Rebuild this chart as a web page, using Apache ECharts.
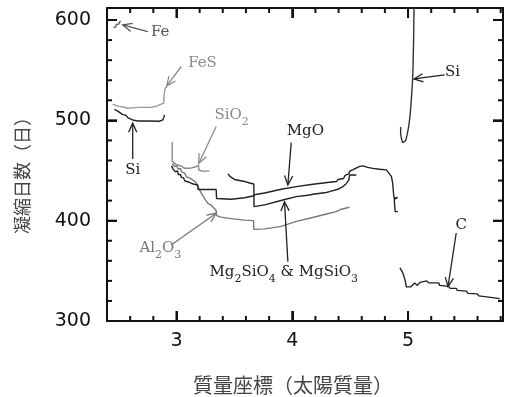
<!DOCTYPE html>
<html><head><meta charset="utf-8">
<script src="https://cdn.jsdelivr.net/npm/echarts@6/dist/echarts.min.js"></script>
<style>html,body{margin:0;padding:0;background:#fff}#c{width:513px;height:397px}</style>
</head><body><div id="c"></div>
<script>
// ---- axes ----
const xMin = 2.4, xMax = 5.82, yMin = 300, yMax = 612;
const xMajorStep = 1, yMajorStep = 100;
const xMajorTicks = [3, 4, 5];
const xMinorTicks = [2.6, 2.8, 3.2, 3.4, 3.6, 3.8, 4.2, 4.4, 4.6, 4.8, 5.2, 5.4, 5.6, 5.8];
const yMajorTicks = [300, 400, 500, 600];
const yMinorTicks = [320, 340, 360, 380, 420, 440, 460, 480, 520, 540, 560, 580];
const xTitle = '質量座標（太陽質量）';
const yTitle = '凝縮日数（日）';

// ---- series values [mass coordinate, days] ----
const fe = [[2.456,592.6],[2.477,593.0],[2.479,595.6],[2.503,596.1],[2.51,598.4],[2.52,598.8]];
const feS = [[2.449,516.1],[2.479,514.7],[2.507,513.9],[2.551,513.1],[2.577,512.1],[2.611,512.4],[2.68,512.9],
  [2.784,513.1],[2.836,514.4],[2.862,515.9],[2.89,517.1],[2.892,524.3],[2.899,530.3],[2.905,532.3],[2.92,533.3]];
const siInner = [[2.464,510.9],[2.49,509.4],[2.507,507.9],[2.533,505.9],[2.565,504.9],[2.579,502.7],[2.602,501.4],
  [2.622,500.4],[2.666,499.4],[2.752,499.4],[2.853,499.1],[2.882,500.4],[2.892,503.4],[2.896,505.4]];
const siO2 = [[2.963,478.5],[2.963,468.5],[2.963,459.5],[2.983,457],[3.009,455.5],[3.041,454.5],[3.069,452.2],
  [3.112,452.2],[3.17,453.8],[3.19,455.5],[3.193,450.5],[3.233,449.1],[3.285,449.6]];
const mgO = [[2.957,454.6],[2.97,451.6],[2.983,452.6],[2.991,448.6],[3.009,449.6],[3.017,445.6],[3.035,446.1],
  [3.043,443.1],[3.061,442.6],[3.073,439.6],[3.104,438.6],[3.13,437.1],[3.164,436.1],[3.184,435.6],[3.186,431.1],
  [3.343,431.1],[3.346,422.1],[3.473,421.3],[3.588,422.9],[3.659,424.6],[3.683,426.1],[3.761,427.6],[3.905,431.3],
  [4.035,433.9],[4.178,436.3],[4.322,438.3],[4.383,439.1],[4.396,441.1],[4.443,442.1],[4.456,445.1],[4.487,446.6],
  [4.5,449.6],[4.521,450.6],[4.538,451.6],[4.556,452.6],[4.582,454.1],[4.61,454.6],[4.651,453.1],[4.697,452.1],
  [4.755,451.3],[4.812,450.6],[4.826,448.6],[4.856,444.1],[4.867,437.6],[4.876,425.6],[4.879,422.4],[4.91,423.2],
  [4.881,421.2],[4.884,415.7],[4.889,409.2],[4.913,409]];
const mg2SiO4 = [[3.445,446.6],[3.467,443.6],[3.501,441.1],[3.545,440.1],[3.588,439.1],[3.631,437.6],[3.668,436.6],
  [3.67,414],[3.761,415.7],[3.919,420.6],[4.035,424],[4.15,425.6],[4.178,426.3],[4.294,428.1],[4.322,428.9],
  [4.394,431.3],[4.409,432.1],[4.437,433.9],[4.467,437.1],[4.489,440.6],[4.495,445.6],[4.553,445.6]];
const al2O3 = [[2.965,457],[2.983,454],[3.004,454.5],[3.013,451.5],[3.035,452],[3.043,448.6],[3.069,447.6],
  [3.086,443.6],[3.112,442.6],[3.138,440.6],[3.17,438.1],[3.186,434.1],[3.199,430.6],[3.216,427.3],[3.242,422.3],
  [3.271,417.3],[3.3,415.6],[3.314,413.6],[3.343,410.1],[3.346,405.1],[3.386,403.6],[3.473,402.1],[3.588,400.6],
  [3.666,400.1],[3.668,391.3],[3.761,391.8],[3.905,394.3],[4.035,399.3],[4.15,402.4],[4.322,407.4],[4.38,409],
  [4.423,411.4],[4.437,412.4],[4.495,413.4]];
const siOuter = [[4.936,493.4],[4.936,486.9],[4.942,482.1],[4.953,477.9],[4.966,476.7],[4.979,479.5],[4.992,485.5],
  [5.005,493.4],[5.018,505.4],[5.028,520.3],[5.038,537.3],[5.043,553.2],[5.048,580.2],[5.051,610.1],[5.052,620]];
const carbon = [[4.93,353],[4.955,348],[4.974,341],[4.985,334],[5.022,334],[5.057,338],[5.078,335.5],[5.104,338.5],
  [5.161,340],[5.178,338],[5.264,338],[5.273,335.5],[5.351,334.5],[5.364,332.5],[5.418,332.5],[5.425,330.5],
  [5.504,329.8],[5.518,327.5],[5.597,327],[5.612,325],[5.697,323.8],[5.711,322.5],[5.792,322.3]];

// ---- annotations (data coordinates): arrow tail, arrow tip, label anchor ----
const labelTexts = ['Fe', 'FeS', 'Si', '{n|SiO}{s|2}', 'MgO', '{n|Al}{s|2}{n|O}{s|3}', '{n|Mg}{s|2}{n|SiO}{s|4}{n| & MgSiO}{s|3}', 'Si', 'C'];
const labelAlign = ['left','center','center','left','center','left','left','center','center'];
const labelColor = ['#555','#8a8a8a','#222','#8a8a8a','#222','#777','#222','#222','#222'];
const arrowFrom = [[2.752,588.4],[3.041,553.7],[2.622,461.6],[3.343,493.8],[3.991,477.8],[2.954,375.8],[3.962,359.1],[5.316,545.3],[5.416,387.7]];
const arrowTo = [[2.536,595.1],[2.916,534.4],[2.622,497.2],[3.193,457.3],[3.962,435.6],[3.343,407.4],[3.933,418.9],[5.051,541.3],[5.345,334.2]];
const labelAt = [[2.78,587.8],[3.225,557],[2.622,450.6],[3.328,505.4],[4.113,488.8],[2.68,372.9],[3.285,349.2],[5.385,548.3],[5.459,395.7]];
const annotationData = arrowFrom.map((f, i) => [f[0], f[1], arrowTo[i][0], arrowTo[i][1], labelAt[i][0], labelAt[i][1]]);

const chart = echarts.init(document.getElementById('c'), null, {renderer: 'canvas'});
const axisColor = '#111';
const numFont = {fontFamily: 'DejaVu Sans', fontSize: 19, color: '#111'};
const isMult = (v, s) => Math.abs(v / s - Math.round(v / s)) < 1e-6;

function axisDef(kind, pos, step, labels) {
  const isX = kind === 'x';
  return {type: 'value', min: isX ? xMin : yMin, max: isX ? xMax : yMax, position: pos, gridIndex: 0,
    minInterval: step, maxInterval: step, splitNumber: 20,
    axisLine: {show: true, onZero: false, lineStyle: {color: axisColor, width: 2}},
    axisTick: {show: true, inside: true, length: 10, lineStyle: {color: axisColor, width: 2}},
    axisLabel: labels ? Object.assign({show: true, margin: isX ? 11 : 16,
      formatter: v => isMult(v, step) ? String(Math.round(v)) : ''}, numFont) : {show: false},
    splitLine: {show: false}};
}
function lineSeries(name, data, color) {
  return {name, type: 'line', data, showSymbol: false, symbol: 'none', clip: true,
    lineStyle: {color, width: 1.4}};
}

// one record per tick: [x, y, side(0 bottom,1 top,2 left,3 right), major]
const tickData = [];
xMajorTicks.forEach(v => { tickData.push([v, yMin, 0, 1]); tickData.push([v, yMax, 1, 1]); });
xMinorTicks.forEach(v => { tickData.push([v, yMin, 0, 0]); tickData.push([v, yMax, 1, 0]); });
yMajorTicks.forEach(v => { tickData.push([xMin, v, 2, 1]); tickData.push([xMax, v, 3, 1]); });
yMinorTicks.forEach(v => { tickData.push([xMin, v, 2, 0]); tickData.push([xMax, v, 3, 0]); });
function renderTick(params, api) {
  const p = api.coord([api.value(0), api.value(1)]);
  const side = api.value(2), len = api.value(3) === 1 ? 10 : 5;
  const d = [[0, -len], [0, len], [len, 0], [-len, 0]][side];
  return {type: 'line', shape: {x1: p[0], y1: p[1], x2: p[0] + d[0], y2: p[1] + d[1]},
    style: {stroke: axisColor, lineWidth: 2}};
}

function renderAnnotation(params, api) {
  const i = params.dataIndex;
  const c = labelColor[i];
  const a = api.coord([api.value(0), api.value(1)]);
  const b = api.coord([api.value(2), api.value(3)]);
  const t = api.coord([api.value(4), api.value(5)]);
  const ang = Math.atan2(a[1] - b[1], a[0] - b[0]);
  const hl = 10, ha = 0.42;
  const h1 = [b[0] + hl * Math.cos(ang + ha), b[1] + hl * Math.sin(ang + ha)];
  const h2 = [b[0] + hl * Math.cos(ang - ha), b[1] + hl * Math.sin(ang - ha)];
  return {type: 'group', children: [
    {type: 'line', shape: {x1: a[0], y1: a[1], x2: b[0], y2: b[1]}, style: {stroke: c, lineWidth: 1.3}},
    {type: 'polyline', shape: {points: [h1, b, h2]}, style: {stroke: c, lineWidth: 1.3, fill: null}},
    {type: 'text', style: {x: t[0], y: t[1], text: labelTexts[i], align: labelAlign[i], verticalAlign: 'middle',
      fill: c, fontFamily: 'DejaVu Serif', fontSize: 15,
      rich: {
        n: {fontFamily: 'DejaVu Serif', fontSize: 15, fill: c, lineHeight: 26, verticalAlign: 'middle'},
        s: {fontFamily: 'DejaVu Serif', fontSize: 11, fill: c, lineHeight: 11, verticalAlign: 'bottom'}
      }}}
  ]};
}

chart.setOption({
  animation: false,
  grid: {left: 107, right: 10, top: 8, bottom: 76},
  xAxis: [axisDef('x', 'bottom', xMajorStep, true), axisDef('x', 'top', xMajorStep, false)],
  yAxis: [axisDef('y', 'left', yMajorStep, true), axisDef('y', 'right', yMajorStep, false)],
  series: [
    lineSeries('Fe', fe, '#666'),
    lineSeries('FeS', feS, '#999'),
    lineSeries('Si', siInner, '#222'),
    lineSeries('SiO2', siO2, '#8a8a8a'),
    lineSeries('Al2O3', al2O3, '#7a7a7a'),
    lineSeries('MgO', mgO, '#222'),
    lineSeries('Mg2SiO4 & MgSiO3', mg2SiO4, '#222'),
    lineSeries('Si outer', siOuter, '#333'),
    lineSeries('C', carbon, '#222'),
    {type: 'custom', name: 'ticks', data: tickData, renderItem: renderTick, clip: false,
     encode: {x: 0, y: 1}, z: 12},
    {type: 'custom', name: 'labels', data: annotationData, renderItem: renderAnnotation, clip: false,
     encode: {x: [0, 2, 4], y: [1, 3, 5]}, silent: true, z: 10}
  ],
  graphic: [
    {type: 'text', z: 10, style: {x: 293, y: 385, text: xTitle, align: 'center', verticalAlign: 'middle',
      fill: '#444', fontFamily: 'Noto Sans CJK JP', fontSize: 20}},
    {type: 'text', z: 10, x: 22, y: 171, rotation: Math.PI / 2, style: {x: 0, y: 0, text: yTitle, align: 'center',
      verticalAlign: 'middle', fill: '#444', fontFamily: 'Noto Sans CJK JP', fontSize: 18}}
  ]
});
</script></body></html>
